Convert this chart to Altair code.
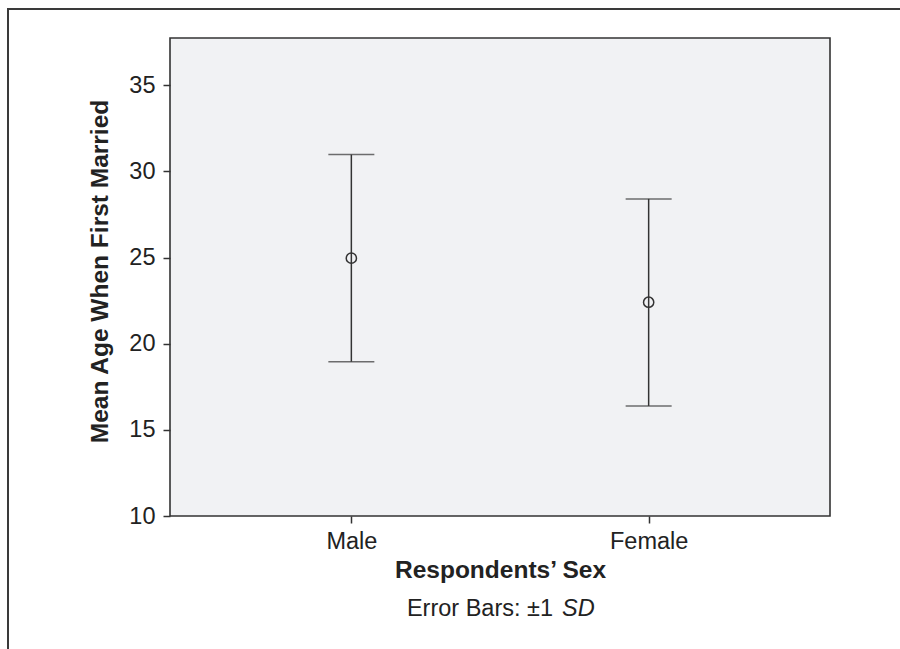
import altair as alt
import pandas as pd

# ---- data ----
sexes = ["Male", "Female"]
mean_age = [24.97, 22.41]
lower_sd = [18.96, 16.39]
upper_sd = [30.98, 28.41]
y_ticks = [10, 15, 20, 25, 30, 35]

x_title = "Respondents\u2019 Sex"
y_title = "Mean Age When First Married"
note_regular = "Error Bars: \u00b11"
note_italic = "SD"

df = pd.DataFrame({"sex": sexes, "mean": mean_age, "lo": lower_sd, "hi": upper_sd})

FONT = "Liberation Sans"
INK = "#333333"
LBL = 23.5
TTL = 24.5

x_enc = alt.X(
    "sex:N",
    sort=sexes,
    scale=alt.Scale(type="point", padding=0.61),
    axis=alt.Axis(
        title=x_title,
        labelAngle=0,
        labelFont=FONT,
        labelFontSize=LBL,
        labelColor="#222222",
        labelBaseline="alphabetic",
        labelPadding=25,
        tickSize=7,
        tickColor=INK,
        tickWidth=1.5,
        domain=False,
        titleFont=FONT,
        titleFontSize=TTL,
        titleFontWeight="bold",
        titleColor="#222222",
        titleBaseline="alphabetic",
        titleY=61,
    ),
)
y_scale = alt.Scale(domain=[10, 37.75], nice=False, zero=False)
y_axis = alt.Axis(
    title=y_title,
    values=y_ticks,
    grid=False,
    labelFont=FONT,
    labelFontSize=LBL,
    labelColor="#222222",
    labelPadding=8,
    tickSize=7,
    tickColor=INK,
    tickWidth=1.5,
    domain=False,
    titleFont=FONT,
    titleFontSize=TTL,
    titleFontWeight="bold",
    titleColor="#222222",
    titleBaseline="alphabetic",
    titleX=-63,
    titleY=233,
    titleAngle=270,
)

base = alt.Chart(df)

bars = base.mark_rule(color=INK, strokeWidth=1.5).encode(
    x=x_enc,
    y=alt.Y("lo:Q", scale=y_scale, axis=y_axis),
    y2="hi:Q",
)
cap_lo = base.mark_tick(color=INK, thickness=1.5, size=46, orient="horizontal").encode(
    x=alt.X("sex:N", sort=sexes), y=alt.Y("lo:Q")
)
cap_hi = base.mark_tick(color=INK, thickness=1.5, size=46, orient="horizontal").encode(
    x=alt.X("sex:N", sort=sexes), y=alt.Y("hi:Q")
)
points = base.mark_point(shape="circle", filled=False, color=INK, size=105, strokeWidth=1.5, opacity=1).encode(
    x=alt.X("sex:N", sort=sexes), y=alt.Y("mean:Q")
)

one = pd.DataFrame({"t1": [note_regular], "t2": [note_italic]})
note1 = alt.Chart(one).mark_text(
    font=FONT, fontSize=LBL, color="#222222", align="right", baseline="alphabetic"
).encode(text="t1:N", x=alt.value(383), y=alt.value(578))
note2 = alt.Chart(one).mark_text(
    font=FONT, fontSize=LBL, fontStyle="italic", color="#222222", align="left", baseline="alphabetic"
).encode(text="t2:N", x=alt.value(392), y=alt.value(578))

frame_left = alt.Chart(one).mark_rule(color="#3a3a3a", strokeWidth=2).encode(
    x=alt.value(-162), y=alt.value(-30), y2=alt.value(611)
)
frame_top = alt.Chart(one).mark_rule(color="#3a3a3a", strokeWidth=2).encode(
    x=alt.value(-163), x2=alt.value(730), y=alt.value(-29)
)

chart = (
    alt.layer(bars, cap_lo, cap_hi, points, note1, note2, frame_left, frame_top)
    .properties(
        width=660,
        height=478,
        padding={"left": 170, "top": 38, "right": 70, "bottom": 133},
        autosize=alt.AutoSizeParams(type="none"),
        background="white",
    )
    .configure_view(stroke=INK, strokeWidth=1.6, fill="#f1f2f4")
)

chart.save("out.html", embed_options={"renderer": "svg", "actions": False})
